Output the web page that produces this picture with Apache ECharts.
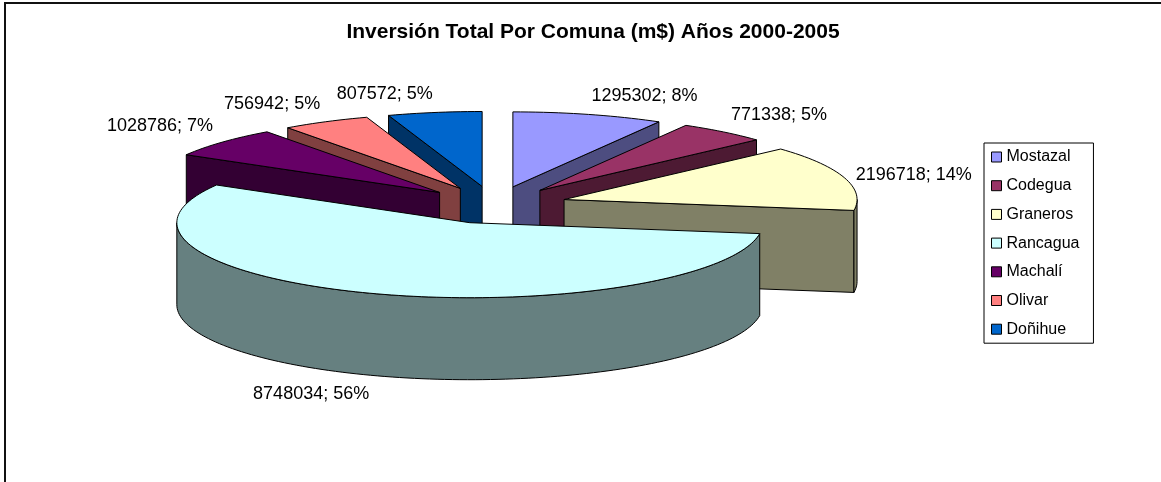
<!DOCTYPE html>
<html>
<head>
<meta charset="utf-8">
<script src="https://cdn.jsdelivr.net/npm/echarts@6/dist/echarts.min.js"></script>
<style>
  html, body { margin: 0; padding: 0; background: #fff; }
  #chart { width: 1161px; height: 482px; }
</style>
</head>
<body>
<div id="chart"></div>
<script>
// Investment per commune, thousands of pesos, 2000-2005
const comunas = ['Mostazal', 'Codegua', 'Graneros', 'Rancagua', 'Machalí', 'Olivar', 'Doñihue'];
const inversion = [1295302, 771338, 2196718, 8748034, 1028786, 756942, 807572];
const topColors = ['#9999FF', '#993366', '#FFFFCC', '#CCFFFF', '#660066', '#FF8080', '#0066CC'];
const sideColors = ['#4D4D80', '#4D1A33', '#808066', '#668080', '#330033', '#804040', '#003366'];
const titulo = 'Inversión Total Por Comuna (m$) Años 2000-2005';

// Layout of the tilted, exploded pie (pixels)
const PIE = { cx: 494, cy: 205, rx: 293, ry: 75, depth: 82, explode: 0.25 };
const FONT = '"Liberation Sans", Arial, sans-serif';

function rad(d) { return d * Math.PI / 180; }

// Slice angles, clockwise from 12 o'clock
const total = inversion.reduce((s, v) => s + v, 0);
const startAng = [], endAng = [];
let acc = 0;
inversion.forEach(v => { startAng.push(acc / total * 360); acc += v; endAng.push(acc / total * 360); });
const pct = inversion.map(v => Math.round(v / total * 100));

// Slices closer to the viewer are painted later
const frontness = inversion.map((v, i) => -Math.cos(rad((startAng[i] + endAng[i]) / 2)));
const order = frontness.map((f, i) => i).sort((a, b) => frontness[a] - frontness[b]);
const rank = [];
order.forEach((idx, r) => { rank[idx] = r; });

function renderSlice(params, api) {
  const i = params.dataIndex;
  const a = startAng[i], b = endAng[i], m = (a + b) / 2;
  const e = PIE.explode * PIE.rx;
  const ox = PIE.cx + e * Math.sin(rad(m));
  const oy = PIE.cy - e * (PIE.ry / PIE.rx) * Math.cos(rad(m));
  const D = PIE.depth;
  const pt = (t, h) => [ox + PIE.rx * Math.sin(rad(t)), oy - PIE.ry * Math.cos(rad(t)) + (h || 0)];
  const arc = (t0, t1, h) => {
    const n = Math.max(2, Math.ceil((t1 - t0) / 1.5));
    const pts = [];
    for (let k = 0; k <= n; k++) pts.push(pt(t0 + (t1 - t0) * k / n, h));
    return pts;
  };
  const base = rank[i] * 10;
  const edge = { stroke: '#000', lineWidth: 1, lineJoin: 'round' };
  const children = [];

  // radial cut faces that turn toward the viewer
  const cutFace = t => ({
    type: 'polygon', z2: base + 1,
    shape: { points: [[ox, oy], pt(t), pt(t, D), [ox, oy + D]] },
    style: Object.assign({ fill: sideColors[i] }, edge)
  });
  if (Math.sin(rad(a)) < -1e-6) children.push(cutFace(a));
  if (Math.sin(rad(b)) > 1e-6) children.push(cutFace(b));

  // front part of the outer wall
  const w0 = Math.max(a, 90), w1 = Math.min(b, 270);
  if (w1 > w0) {
    children.push({
      type: 'polygon', z2: base + 2,
      shape: { points: arc(w0, w1, 0).concat(arc(w0, w1, D).reverse()) },
      style: Object.assign({ fill: sideColors[i] }, edge)
    });
  }

  // top face
  children.push({
    type: 'polygon', z2: base + 3,
    shape: { points: [[ox, oy]].concat(arc(a, b, 0)) },
    style: Object.assign({ fill: topColors[i] }, edge)
  });

  // value label outside the rim
  const s = Math.sin(rad(m)), c = Math.cos(rad(m));
  const rim = pt(m, c < 0 ? D : 0);
  children.push({
    type: 'text', z2: 500,
    style: {
      x: rim[0] + 12 * s,
      y: rim[1] - 10 * c,
      text: api.value(0) + '; ' + pct[i] + '%',
      fill: '#000',
      fontFamily: FONT,
      fontSize: 18,
      align: s >= 0 ? 'left' : 'right',
      verticalAlign: c > 0.3 ? 'bottom' : (c < -0.3 ? 'top' : 'middle')
    }
  });
  return { type: 'group', children: children };
}

const chart = echarts.init(document.getElementById('chart'), null, { renderer: 'canvas' });
chart.setOption({
  backgroundColor: '#fff',
  animation: false,
  title: {
    text: titulo,
    left: 593, top: 22, padding: 0,
    textAlign: 'center',
    textStyle: { fontFamily: FONT, fontSize: 21, fontWeight: 'bold', color: '#000' }
  },
  legend: {
    orient: 'vertical',
    left: 984, top: 143,
    padding: [5, 14, 5, 7],
    itemWidth: 10, itemHeight: 10, itemGap: 10.7,
    icon: 'rect',
    selectedMode: false,
    borderColor: '#000', borderWidth: 1,
    itemStyle: { borderColor: '#000', borderWidth: 1 },
    textStyle: { fontFamily: FONT, fontSize: 16, color: '#000', lineHeight: 18 },
    data: comunas
  },
  graphic: [
    { type: 'line', shape: { x1: 4, y1: 3, x2: 1161, y2: 3 }, style: { stroke: '#111', lineWidth: 2 } },
    { type: 'line', shape: { x1: 5, y1: 2, x2: 5, y2: 482 }, style: { stroke: '#111', lineWidth: 2 } }
  ],
  series: [
    {
      // legend source only; the slices themselves come from the custom series
      type: 'pie',
      radius: [0, 0],
      center: [-50, -50],
      silent: true,
      label: { show: false },
      labelLine: { show: false },
      itemStyle: { borderWidth: 0 },
      data: comunas.map((n, i) => ({ name: n, value: inversion[i], itemStyle: { color: topColors[i] } }))
    },
    {
      type: 'custom',
      coordinateSystem: 'none',
      renderItem: renderSlice,
      silent: true,
      data: inversion.map((v, i) => ({ name: comunas[i], value: [v] }))
    }
  ]
});
</script>
</body>
</html>
